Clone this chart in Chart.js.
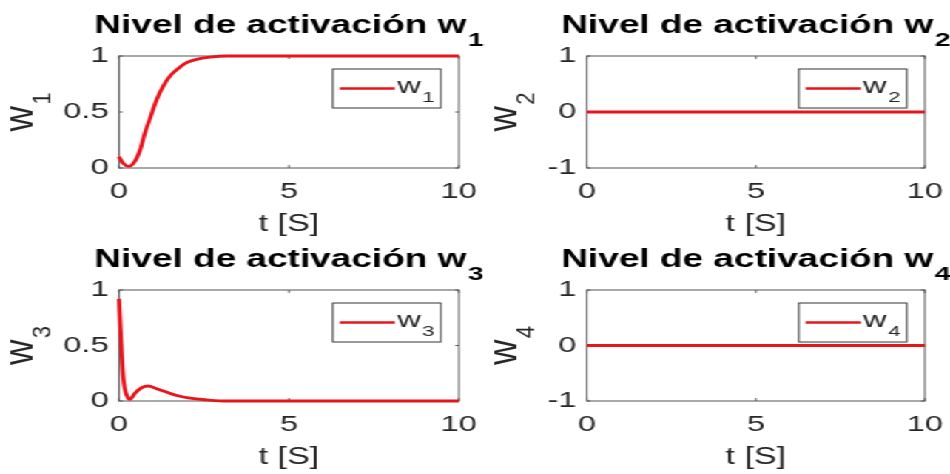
<!DOCTYPE html>
<html>
<head>
<meta charset="utf-8">
<script src="https://cdn.jsdelivr.net/npm/chart.js@4.4.0/dist/chart.umd.min.js"></script>
<style>
  html, body { margin: 0; padding: 0; background: #fff; }
  #fig { position: absolute; left: 0; top: 0; width: 642px; height: 474px;
         transform: scaleX(1.4798); transform-origin: 0 0; }
  #fig canvas { position: absolute; }
</style>
</head>
<body>
<div id="fig">
  <canvas id="c1" width="345" height="237" style="left:0;top:0"></canvas>
  <canvas id="c2" width="321" height="237" style="left:321px;top:0"></canvas>
  <canvas id="c3" width="345" height="237" style="left:0;top:237px"></canvas>
  <canvas id="c4" width="321" height="237" style="left:321px;top:237px"></canvas>
</div>
<script>
// Activation levels over time, t in seconds
const t1 = [0, 0.13, 0.29, 0.47, 0.62, 0.76, 0.91, 1.11, 1.30, 1.50, 1.75, 1.99, 2.28, 2.68, 3.17, 4.0, 10];
const w1 = [0.10, 0.04, 0.015, 0.06, 0.16, 0.31, 0.44, 0.61, 0.73, 0.82, 0.89, 0.94, 0.97, 0.99, 1.0, 1.0, 1.0];

const t2 = [0, 10];
const w2 = [0, 0];

const t3 = [0, 0.03, 0.08, 0.13, 0.23, 0.32, 0.47, 0.67, 0.86, 1.11, 1.40, 1.70, 2.09, 2.58, 3.17, 4.0, 10];
const w3 = [0.92, 0.74, 0.44, 0.20, 0.05, 0.015, 0.07, 0.12, 0.135, 0.11, 0.08, 0.05, 0.025, 0.01, 0.0, 0.0, 0.0];

const t4 = [0, 10];
const w4 = [0, 0];

// Tick labels
const xTicks = [0, 5, 10];
const yTicksUnit = [0, 0.5, 1];
const yTicksSym = [-1, 0, 1];

// Panel names and their subscripts
const panelTitle = 'Nivel de activación w';
const seriesName = 'w';
const subscripts = ['1', '2', '3', '4'];
const xLabel = 't [S]';

const FONT = '"Liberation Sans", Arial, Helvetica, sans-serif';
const RED = '#e8141c';
const INK = '#262626';

// Draws the boxed axes, inside ticks, titles, labels and the legend
const matlabLook = {
  id: 'matlabLook',
  beforeDatasetsDraw(chart, args, o) {
    const { ctx, chartArea: a, scales: { x, y } } = chart;
    ctx.save();
    ctx.strokeStyle = '#555';
    ctx.lineWidth = 1;
    ctx.strokeRect(a.left, a.top, a.right - a.left, a.bottom - a.top);
    ctx.beginPath();
    x.ticks.forEach(tk => {
      const px = x.getPixelForValue(tk.value);
      ctx.moveTo(px, a.bottom); ctx.lineTo(px, a.bottom - 3);
      ctx.moveTo(px, a.top); ctx.lineTo(px, a.top + 3);
    });
    y.ticks.forEach(tk => {
      const py = y.getPixelForValue(tk.value);
      ctx.moveTo(a.left, py); ctx.lineTo(a.left + 2.5, py);
      ctx.moveTo(a.right, py); ctx.lineTo(a.right - 2.5, py);
    });
    ctx.stroke();
    ctx.restore();
  },
  afterDatasetsDraw(chart, args, o) {
    const { ctx, chartArea: a, scales: { y } } = chart;
    const cx = (a.left + a.right) / 2;
    const cy = (a.top + a.bottom) / 2;
    ctx.save();
    ctx.textBaseline = 'alphabetic';
    ctx.textAlign = 'left';

    // title
    ctx.fillStyle = '#000';
    ctx.font = 'bold 25px ' + FONT;
    const mw = ctx.measureText(o.title).width;
    ctx.font = 'bold 19px ' + FONT;
    const sw = ctx.measureText(o.sub).width;
    const tx = cx - (mw + 1 + sw) / 2;
    const ty = a.top - 23;
    ctx.font = 'bold 25px ' + FONT;
    ctx.fillText(o.title, tx, ty);
    ctx.font = 'bold 19px ' + FONT;
    ctx.fillText(o.sub, tx + mw + 1, ty + 13);

    // x label
    ctx.fillStyle = INK;
    ctx.font = '23px ' + FONT;
    ctx.textAlign = 'center';
    ctx.fillText(o.xlabel, cx, a.bottom + 63);

    // y label, rotated, placed to clear the tick labels
    ctx.font = '22px ' + FONT;
    let maxW = 0;
    y.ticks.forEach(tk => { maxW = Math.max(maxW, ctx.measureText(tk.label).width); });
    const bx = a.left - 7 - maxW - 21;
    ctx.textAlign = 'left';
    ctx.font = '27px ' + FONT;
    const yw = ctx.measureText(o.ylabel).width;
    ctx.font = '17px ' + FONT;
    const ys = ctx.measureText(o.sub).width;
    const along = 1.3;
    const tot = (yw + 1 + ys) * along;
    ctx.translate(bx, cy);
    ctx.rotate(-Math.PI / 2);
    ctx.translate(-tot / 2, 0);
    ctx.scale(along, 1);
    ctx.font = '27px ' + FONT;
    ctx.fillText(o.ylabel, 0, 0);
    ctx.font = '17px ' + FONT;
    ctx.fillText(o.sub, yw + 1, 12);
    ctx.setTransform(1, 0, 0, 1, 0, 0);

    // legend box inside the upper right corner
    const ds = chart.data.datasets[0];
    const lr = a.right - 12.2, lt = a.top + 13;
    const lw = 73, lh = 39;
    const ll = lr - lw;
    ctx.fillStyle = '#fff';
    ctx.fillRect(ll, lt, lw, lh);
    ctx.strokeStyle = '#333';
    ctx.lineWidth = 1;
    ctx.strokeRect(ll, lt, lw, lh);
    ctx.strokeStyle = ds.borderColor;
    ctx.lineWidth = 2.4;
    ctx.beginPath();
    ctx.moveTo(ll + 4.7, lt + 19.5);
    ctx.lineTo(ll + 41.9, lt + 19.5);
    ctx.stroke();
    ctx.fillStyle = INK;
    ctx.font = '22px ' + FONT;
    ctx.fillText(ds.label, ll + 43.5, lt + 24);
    const lww = ctx.measureText(ds.label).width;
    ctx.font = '15px ' + FONT;
    ctx.fillText(o.sub, ll + 43.5 + lww + 1, lt + 33);
    ctx.restore();
  }
};

function panel(id, times, values, yTicks, sub, area) {
  const cv = document.getElementById(id);
  const W = cv.width, H = cv.height;
  const yMin = yTicks[0], yMax = yTicks[yTicks.length - 1];
  return new Chart(cv, {
    type: 'line',
    data: {
      datasets: [{
        label: seriesName,
        data: times.map((t, i) => ({ x: t, y: values[i] })),
        borderColor: RED,
        borderWidth: 2.8,
        pointRadius: 0,
        cubicInterpolationMode: 'monotone',
        fill: false,
        clip: false
      }]
    },
    options: {
      responsive: false,
      animation: false,
      events: [],
      layout: { padding: { left: area.l - 40, right: W - area.r, top: area.t, bottom: H - area.b - 30 } },
      plugins: {
        legend: { display: false },
        tooltip: { enabled: false },
        matlabLook: { title: panelTitle, sub: sub, ylabel: seriesName, xlabel: xLabel }
      },
      scales: {
        x: {
          type: 'linear', min: 0, max: 10,
          grid: { display: false, drawTicks: false },
          border: { display: false },
          afterBuildTicks: s => { s.ticks = xTicks.map(v => ({ value: v })); },
          afterFit: s => { s.height = 30; s.paddingLeft = 0; s.paddingRight = 0; },
          ticks: {
            autoSkip: false, maxRotation: 0, padding: 11, color: INK,
            font: { family: FONT, size: 22 },
            callback: v => String(v)
          }
        },
        y: {
          type: 'linear', min: yMin, max: yMax,
          grid: { display: false, drawTicks: false },
          border: { display: false },
          afterBuildTicks: s => { s.ticks = yTicks.map(v => ({ value: v })); },
          afterFit: s => { s.width = 40; s.paddingTop = 0; s.paddingBottom = 0; },
          ticks: {
            autoSkip: false, padding: 7, color: INK,
            font: { family: FONT, size: 22 },
            callback: v => String(v)
          }
        }
      }
    },
    plugins: [matlabLook]
  });
}

panel('c1', t1, w1, yTicksUnit, subscripts[0], { l: 80.4, r: 310.1, t: 56, b: 168 });
panel('c2', t2, w2, yTicksSym,  subscripts[1], { l: 75.6, r: 304.0, t: 56, b: 168 });
panel('c3', t3, w3, yTicksUnit, subscripts[2], { l: 80.4, r: 310.1, t: 53, b: 164 });
panel('c4', t4, w4, yTicksSym,  subscripts[3], { l: 75.6, r: 304.0, t: 53, b: 164 });
</script>
</body>
</html>
